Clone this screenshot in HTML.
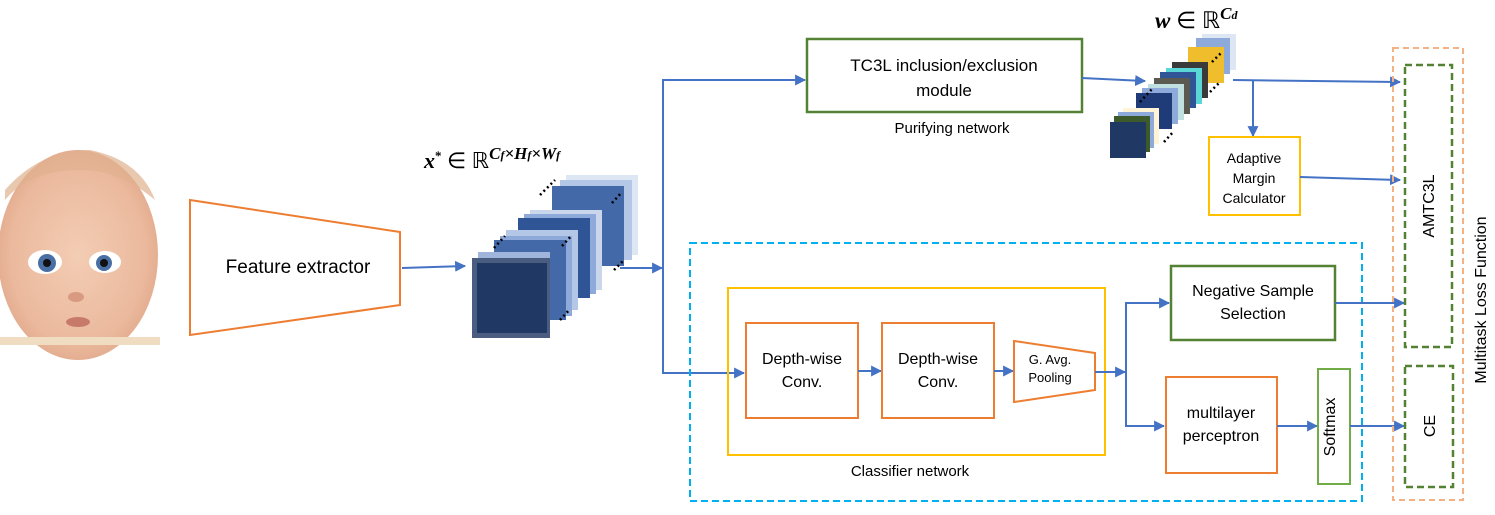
<!DOCTYPE html>
<html><head><meta charset="utf-8"><style>
body{margin:0;background:#fff}
svg{display:block;font-family:"Liberation Sans",Arial,sans-serif}
</style></head><body>
<svg width="1495" height="515" viewBox="0 0 1495 515" xmlns="http://www.w3.org/2000/svg">
<defs>
<marker id="a" viewBox="0 0 10 10" refX="9" refY="5" markerWidth="5.5" markerHeight="5.5" orient="auto"><path d="M0,0L10,5L0,10z" fill="#4472c4"/></marker>
<radialGradient id="skin" cx="50%" cy="50%" r="60%"><stop offset="0" stop-color="#f3cdb4"/><stop offset="0.7" stop-color="#ebb99d"/><stop offset="1" stop-color="#dca083"/></radialGradient>
</defs>
<!-- face -->
<ellipse cx="78" cy="255" rx="80" ry="105" fill="url(#skin)"/>
<path d="M5,190 Q40,150 90,150 Q140,160 155,200 Q120,170 80,170 Q30,170 5,200 Z" fill="#e0b08e" opacity="0.7"/>
<ellipse cx="45" cy="262" rx="17" ry="12" fill="#fff"/><circle cx="47" cy="263" r="9" fill="#4a6fa5"/><circle cx="47" cy="263" r="4" fill="#111"/>
<ellipse cx="105" cy="262" rx="16" ry="11" fill="#fff"/><circle cx="104" cy="263" r="8" fill="#4a6fa5"/><circle cx="104" cy="263" r="4" fill="#111"/>
<ellipse cx="76" cy="297" rx="8" ry="5" fill="#d89a80"/>
<ellipse cx="78" cy="322" rx="12" ry="5" fill="#c77a6a"/>
<rect x="0" y="337" width="160" height="8" fill="#f0dcc0"/>
<!-- feature extractor -->
<polygon points="190,200 400,232 400,305 190,335" fill="#fff" stroke="#ed7d31" stroke-width="2"/>
<text x="298" y="273" font-size="19" text-anchor="middle">Feature extractor</text>
<line x1="402" y1="268" x2="465" y2="266" stroke="#4472c4" stroke-width="2" marker-end="url(#a)"/>
<!-- feature stack -->
<g>
<rect x="566" y="175" width="72" height="80" fill="#dde6f3"/>
<rect x="560" y="180" width="72" height="80" fill="#b4c7e7"/>
<rect x="552" y="186" width="72" height="80" fill="#4469a8"/>
<rect x="530" y="210" width="72" height="80" fill="#c9d6ec"/>
<rect x="524" y="214" width="72" height="80" fill="#8eaadb"/>
<rect x="518" y="218" width="72" height="80" fill="#2f5597"/>
<rect x="506" y="230" width="72" height="80" fill="#b4c7e7"/>
<rect x="500" y="236" width="72" height="80" fill="#8eaadb"/>
<rect x="494" y="240" width="72" height="80" fill="#4469a8"/>
<rect x="478" y="252" width="72" height="80" fill="#9fb5dc"/>
<rect x="472" y="258" width="78" height="80" fill="#4a5d80"/>
<rect x="477" y="263" width="70" height="70" fill="#203864"/>
<g stroke="#000" stroke-width="2.5" stroke-dasharray="2,3">
<line x1="540" y1="195" x2="555" y2="180"/><line x1="612" y1="203" x2="622" y2="192"/>
<line x1="494" y1="248" x2="505" y2="236"/><line x1="562" y1="246" x2="572" y2="235"/>
<line x1="560" y1="320" x2="570" y2="309"/><line x1="614" y1="270" x2="624" y2="260"/>
</g>
</g>
<text x="424" y="168" font-size="22" font-style="italic" font-weight="bold" font-family="Liberation Serif">x<tspan font-size="13" dy="-8" font-style="normal">*</tspan><tspan dy="8" font-style="normal" font-weight="normal"> ∈  ℝ</tspan><tspan dy="-9" font-size="17">C<tspan font-size="12">f</tspan>×H<tspan font-size="12">f</tspan>×W<tspan font-size="12">f</tspan></tspan></text>
<line x1="620" y1="268" x2="662" y2="268" stroke="#4472c4" stroke-width="2" marker-end="url(#a)"/>
<!-- trunk -->
<polyline points="805,80 663,80 663,373 744,373" fill="none" stroke="#4472c4" stroke-width="2" marker-end="url(#a)"/>
<line x1="663" y1="80" x2="805" y2="80" stroke="#4472c4" stroke-width="2" marker-end="url(#a)"/>
<!-- TC3L -->
<rect x="807" y="39" width="275" height="73" fill="#fff" stroke="#548235" stroke-width="2.5"/>
<text x="944" y="71" font-size="17" text-anchor="middle">TC3L inclusion/exclusion</text>
<text x="944" y="96" font-size="17" text-anchor="middle">module</text>
<text x="952" y="133" font-size="15" text-anchor="middle">Purifying network</text>
<line x1="1082" y1="78" x2="1145" y2="81" stroke="#4472c4" stroke-width="2" marker-end="url(#a)"/>
<!-- w stack -->
<g>
<rect x="1202" y="34" width="34" height="36" fill="#dde6f3"/>
<rect x="1196" y="38" width="34" height="36" fill="#8eaadb"/>
<rect x="1188" y="47" width="36" height="36" fill="#f0bd2c"/>
<rect x="1172" y="62" width="36" height="36" fill="#3a3a3a"/>
<rect x="1166" y="68" width="36" height="36" fill="#5ad6d6"/>
<rect x="1160" y="72" width="36" height="36" fill="#2f5597"/>
<rect x="1154" y="78" width="36" height="36" fill="#5a5a50"/>
<rect x="1148" y="84" width="36" height="36" fill="#c0e0e0"/>
<rect x="1142" y="88" width="36" height="36" fill="#8eaadb"/>
<rect x="1136" y="93" width="36" height="36" fill="#203c78"/>
<rect x="1123" y="108" width="36" height="36" fill="#fff4d6"/>
<rect x="1118" y="112" width="36" height="36" fill="#8eaadb"/>
<rect x="1114" y="116" width="36" height="36" fill="#3d5a2a"/>
<rect x="1110" y="122" width="36" height="36" fill="#203864"/>
<g stroke="#000" stroke-width="2.5" stroke-dasharray="2,3">
<line x1="1140" y1="102" x2="1152" y2="89"/><line x1="1212" y1="62" x2="1222" y2="52"/>
<line x1="1164" y1="142" x2="1174" y2="131"/><line x1="1210" y1="92" x2="1220" y2="82"/>
</g>
</g>
<text x="1155" y="28" font-size="23" font-style="italic" font-weight="bold" font-family="Liberation Serif">w<tspan font-style="normal" font-weight="normal"> ∈  ℝ</tspan><tspan dy="-9" font-size="17">C<tspan font-size="12">d</tspan></tspan></text>
<line x1="1233" y1="80" x2="1400" y2="82" stroke="#4472c4" stroke-width="2" marker-end="url(#a)"/>
<line x1="1253" y1="80" x2="1253" y2="136" stroke="#4472c4" stroke-width="2" marker-end="url(#a)"/>
<rect x="1209" y="137" width="91" height="78" fill="#fff" stroke="#ffc000" stroke-width="2"/>
<text x="1254" y="163" font-size="14" text-anchor="middle">Adaptive</text>
<text x="1254" y="183" font-size="14" text-anchor="middle">Margin</text>
<text x="1254" y="203" font-size="14" text-anchor="middle">Calculator</text>
<line x1="1300" y1="177" x2="1400" y2="180" stroke="#4472c4" stroke-width="2" marker-end="url(#a)"/>
<!-- classifier -->
<rect x="690" y="243" width="672" height="258" fill="none" stroke="#00b0f0" stroke-width="2" stroke-dasharray="7,4"/>
<rect x="728" y="288" width="377" height="167" fill="none" stroke="#ffc000" stroke-width="2"/>
<text x="910" y="476" font-size="15" text-anchor="middle">Classifier network</text>
<rect x="746" y="323" width="112" height="95" fill="#fff" stroke="#ed7d31" stroke-width="2"/>
<text x="802" y="364" font-size="16" text-anchor="middle">Depth-wise</text>
<text x="802" y="387" font-size="16" text-anchor="middle">Conv.</text>
<line x1="858" y1="371" x2="881" y2="371" stroke="#4472c4" stroke-width="2" marker-end="url(#a)"/>
<rect x="882" y="323" width="112" height="95" fill="#fff" stroke="#ed7d31" stroke-width="2"/>
<text x="938" y="364" font-size="16" text-anchor="middle">Depth-wise</text>
<text x="938" y="387" font-size="16" text-anchor="middle">Conv.</text>
<line x1="994" y1="371" x2="1013" y2="371" stroke="#4472c4" stroke-width="2" marker-end="url(#a)"/>
<polygon points="1014,341 1095,353 1095,390 1014,402" fill="#fff" stroke="#ed7d31" stroke-width="2"/>
<text x="1050" y="364" font-size="13" text-anchor="middle">G. Avg.</text>
<text x="1050" y="382" font-size="13" text-anchor="middle">Pooling</text>
<line x1="1095" y1="372" x2="1125" y2="372" stroke="#4472c4" stroke-width="2" marker-end="url(#a)"/>
<polyline points="1168,303 1126,303 1126,426 1163,426" fill="none" stroke="#4472c4" stroke-width="2"/>
<line x1="1126" y1="303" x2="1169" y2="303" stroke="#4472c4" stroke-width="2" marker-end="url(#a)"/>
<line x1="1126" y1="426" x2="1164" y2="426" stroke="#4472c4" stroke-width="2" marker-end="url(#a)"/>
<rect x="1171" y="266" width="164" height="74" fill="#fff" stroke="#548235" stroke-width="2.5"/>
<text x="1253" y="296" font-size="16" text-anchor="middle">Negative Sample</text>
<text x="1253" y="319" font-size="16" text-anchor="middle">Selection</text>
<line x1="1335" y1="303" x2="1404" y2="303" stroke="#4472c4" stroke-width="2" marker-end="url(#a)"/>
<rect x="1166" y="377" width="111" height="96" fill="#fff" stroke="#ed7d31" stroke-width="2"/>
<text x="1221" y="418" font-size="16" text-anchor="middle">multilayer</text>
<text x="1221" y="441" font-size="16" text-anchor="middle">perceptron</text>
<line x1="1277" y1="426" x2="1317" y2="426" stroke="#4472c4" stroke-width="2" marker-end="url(#a)"/>
<rect x="1318" y="369" width="32" height="115" fill="#fff" stroke="#70ad47" stroke-width="2"/>
<text x="1340" y="427" font-size="16" text-anchor="middle" transform="rotate(-90 1340 427)" dy="-5">Softmax</text>
<line x1="1350" y1="426" x2="1404" y2="426" stroke="#4472c4" stroke-width="2" marker-end="url(#a)"/>
<!-- loss -->
<rect x="1393" y="48" width="70" height="452" fill="none" stroke="#f4b183" stroke-width="2" stroke-dasharray="6,4"/>
<rect x="1405" y="65" width="47" height="282" fill="none" stroke="#548235" stroke-width="2.5" stroke-dasharray="7,4"/>
<text x="1434" y="206" font-size="16" text-anchor="middle" transform="rotate(-90 1434 206)">AMTC3L</text>
<rect x="1405" y="366" width="48" height="121" fill="none" stroke="#548235" stroke-width="2.5" stroke-dasharray="7,4"/>
<text x="1435" y="426" font-size="16" text-anchor="middle" transform="rotate(-90 1435 426)">CE</text>
<text x="1486" y="300" font-size="16" text-anchor="middle" transform="rotate(-90 1486 300)">Multitask Loss Function</text>
</svg>
</body></html>
